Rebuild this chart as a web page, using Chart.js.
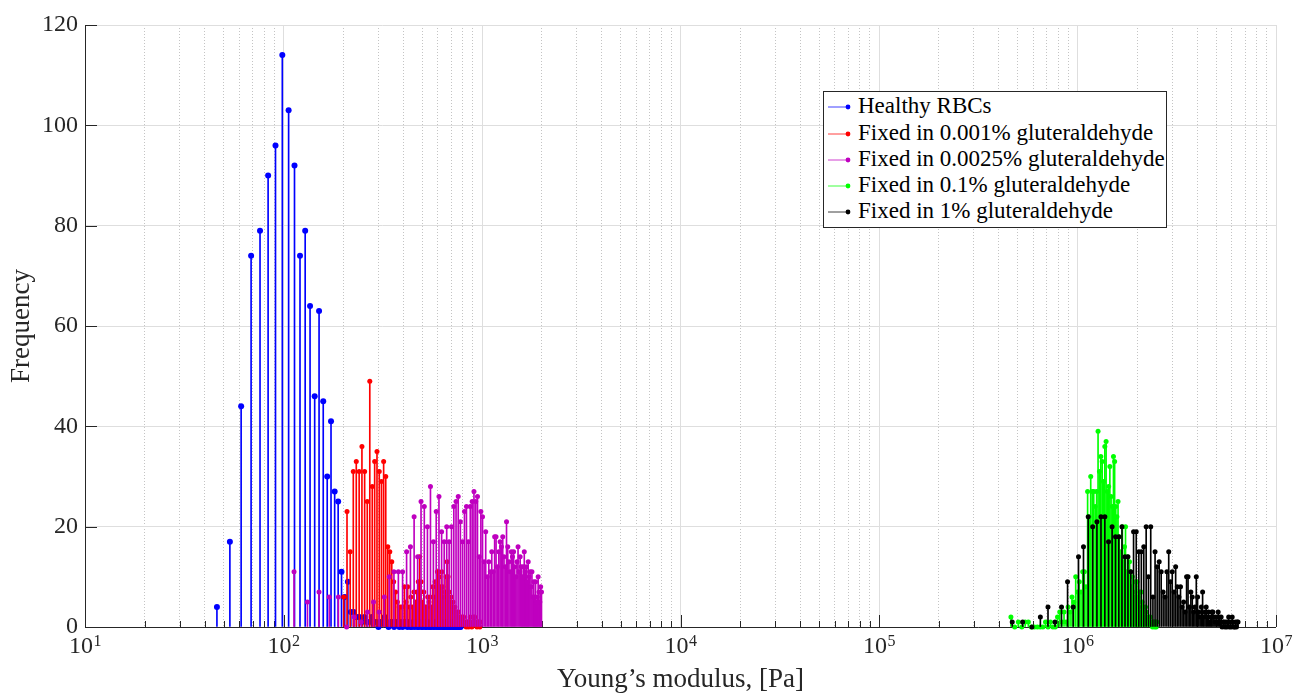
<!DOCTYPE html>
<html>
<head>
<meta charset="utf-8">
<script src="https://cdn.jsdelivr.net/npm/chart.js@4.4.1/dist/chart.umd.min.js"></script>
<style>
  html, body { margin: 0; padding: 0; background: #fff; }
  #wrap { position: relative; width: 1306px; height: 693px; }
  #legend {
    position: absolute; left: 823px; top: 91px; width: 344px; height: 137px;
    box-sizing: border-box; border: 1px solid #262626; background: #fff;
    font-family: "Liberation Serif", serif; font-size: 23px; color: #000;
  }
  .row { position: absolute; left: 0; height: 26px; line-height: 26px; white-space: nowrap; }
  .row svg { position: absolute; left: 3px; top: 8px; }
  .row span { position: absolute; left: 34px; top: -1px; }
</style>
</head>
<body>
<div id="wrap">
  <canvas id="histChart" width="1306" height="693"></canvas>
  <div id="legend"></div>
</div>
<script>
// histogram bins (Pa) and counts
const healthyBinStart = 46.2, healthyBinWidth = 7.49;
const healthyCounts = [
  4, 17, 44, 74, 79, 90, 96, 114, 103, 92,
  74, 79, 64, 46, 63, 45, 30, 41, 27, 25,
  11, 6, 9, 3, 3, 2, 2, 1, 2, 1,
  1, 2, 1, 1, 0, 1, 1, 2, 1, 0,
  1, 1, 0, 1, 1, 0, 1, 0, 1, 1,
  0, 1, 0, 0, 1, 0, 1, 0, 0, 1,
  0, 0, 1, 0, 0, 1, 0, 0, 0, 1,
  0, 0, 1, 0, 0, 0, 0, 1, 0, 0,
  0, 0, 1, 0, 0, 0, 0, 0, 1, 0,
  0, 0, 0, 0, 0, 0, 0, 0, 0, 1
];

const fixed001BinStart = 201, fixed001BinWidth = 7.9;
const fixed001Counts = [
  6, 23, 15, 31, 33, 31, 36, 31, 25, 49,
  28, 33, 35, 31, 29, 33, 30, 16, 15, 13,
  9, 7, 5, 4, 4, 4, 8, 5, 8, 4,
  6, 4, 7, 5, 7, 9, 14, 9, 5, 7,
  4, 4, 6, 5, 6, 4, 8, 6, 9, 8,
  11, 11, 10, 8, 11, 8, 6, 7, 10, 13,
  10, 7, 5, 6, 4, 5, 3, 4, 3, 2,
  3, 3, 2, 2, 1, 2, 1, 2, 1, 1,
  0, 1, 1, 0, 1, 2, 1, 0, 1, 2,
  1, 2, 1, 1, 0, 1, 1, 1, 0, 1
];

const fixed0025BinStart = 113, fixed0025BinWidth = 19.0;
const fixed0025Counts = [
  11, 5, 7, 6, 6, 0, 2, 1, 3, 5,
  3, 6, 10, 11, 11, 11, 15, 16, 22, 14,
  25, 24, 20, 28, 17, 23, 26, 19, 17, 20,
  17, 20, 24, 25, 26, 21, 17, 23, 24, 17,
  24, 25, 27, 25, 26, 14, 23, 22, 13, 19,
  10, 13, 11, 15, 11, 18, 18, 12, 15, 17,
  16, 18, 14, 12, 21, 16, 13, 11, 15, 14,
  15, 12, 10, 13, 16, 11, 14, 12, 10, 12,
  15, 11, 12, 9, 13, 10, 11, 8, 11, 6,
  9, 6, 9, 5, 6, 10, 7, 5, 8, 7
];

const fixed01BinStart = 462e3, fixed01BinWidth = 20.7e3;
const fixed01Counts = [
  2, 0, 1, 0, 1, 1, 0, 0, 0, 0,
  0, 1, 0, 1, 0, 0, 2, 3, 1, 3,
  1, 4, 3, 6, 5, 10, 7, 9, 7, 11,
  11, 8, 27, 22, 30, 27, 27, 24, 27, 39,
  31, 34, 33, 29, 36, 37, 27, 28, 32, 26,
  24, 34, 33, 24, 22, 25, 18, 15, 13, 20,
  13, 16, 20, 11, 14, 10, 13, 11, 8, 10,
  7, 6, 9, 5, 9, 6, 4, 7, 3, 7,
  5, 3, 4, 2, 4, 3, 2, 1, 2, 1,
  2, 1, 1, 0, 1, 1, 0, 1, 0, 1
];

const fixed1BinStart = 469e3, fixed1BinWidth = 60.3e3;
const fixed1Counts = [
  1, 1, 0, 2, 4, 1, 4, 9, 4, 14,
  16, 22, 20, 21, 22, 22, 17, 20, 18, 18,
  20, 14, 14, 11, 19, 19, 15, 15, 16, 20,
  10, 20, 6, 15, 12, 13, 11, 7, 6, 11,
  15, 9, 11, 7, 12, 8, 6, 8, 4, 5,
  3, 10, 10, 4, 7, 6, 3, 4, 10, 6,
  3, 2, 4, 7, 2, 3, 4, 2, 3, 1,
  2, 3, 3, 2, 1, 2, 1, 3, 2, 1,
  2, 0, 1, 1, 0, 1, 0, 1, 2, 0,
  1, 0, 2, 1, 0, 0, 1, 0, 1, 1
];

const seriesNames = [
  'Healthy RBCs',
  'Fixed in 0.001% gluteraldehyde',
  'Fixed in 0.0025% gluteraldehyde',
  'Fixed in 0.1% gluteraldehyde',
  'Fixed in 1% gluteraldehyde'
];
const seriesColors = ['#0000ff', '#ff0000', '#bf00bf', '#00ff00', '#000000'];
const markerSizes = [3, 2.5, 2.5, 2.5, 2.5];

const xTickExponents = [1, 2, 3, 4, 5, 6, 7];
const yTickValues = [0, 20, 40, 60, 80, 100, 120];

const series = [
  [healthyBinStart, healthyBinWidth, healthyCounts],
  [fixed001BinStart, fixed001BinWidth, fixed001Counts],
  [fixed0025BinStart, fixed0025BinWidth, fixed0025Counts],
  [fixed01BinStart, fixed01BinWidth, fixed01Counts],
  [fixed1BinStart, fixed1BinWidth, fixed1Counts]
];

function toPoints(start, width, counts) {
  return counts.map((c, i) => ({ x: start + i * width, y: c }));
}

// stems (1px bars) + markers; later series drawn on top like in matlab
const datasets = [];
series.forEach(([start, width, counts], i) => {
  const pts = toPoints(start, width, counts);
  datasets.push({
    type: 'bar', data: pts, backgroundColor: seriesColors[i],
    barThickness: 1, grouped: false, order: 20 - 2 * i
  });
  datasets.push({
    type: 'scatter', data: pts, backgroundColor: seriesColors[i],
    borderWidth: 0, pointRadius: markerSizes[i], showLine: false,
    clip: false, order: 19 - 2 * i
  });
});

// minor log ticks 2..9 for the grid
const xTickValues = [];
xTickExponents.forEach(e => {
  for (let k = 1; k <= 9; k++) {
    if (e === 7 && k > 1) break;
    xTickValues.push(k * Math.pow(10, e));
  }
});

function isDecade(v) {
  const l = Math.log10(v);
  return Math.abs(l - Math.round(l)) < 1e-9;
}

const axesDecor = {
  id: 'axesDecor',
  beforeDatasetsDraw(chart) {
    const { ctx, chartArea: a, scales: { x, y } } = chart;
    ctx.save();
    ctx.strokeStyle = '#262626';
    ctx.lineWidth = 1;
    ctx.beginPath();
    xTickValues.forEach(v => {
      const px = Math.round(x.getPixelForValue(v)) + 0.5;
      const len = isDecade(v) ? 12 : 6;
      ctx.moveTo(px, a.bottom); ctx.lineTo(px, a.bottom - len);
    });
    yTickValues.forEach(v => {
      const py = Math.round(y.getPixelForValue(v)) + 0.5;
      ctx.moveTo(a.left, py); ctx.lineTo(a.left + 12, py);
    });
    // left and bottom axis lines only (box off)
    const l = Math.round(a.left) + 0.5, b = Math.round(a.bottom) + 0.5;
    ctx.moveTo(l, Math.round(a.top)); ctx.lineTo(l, b);
    ctx.lineTo(Math.round(a.right), b);
    ctx.stroke();
    ctx.restore();
  },
  afterDraw(chart) {
    const { ctx, chartArea: a, scales: { x } } = chart;
    ctx.save();
    ctx.fillStyle = '#262626';
    ctx.textBaseline = 'alphabetic';
    xTickExponents.forEach(e => {
      const px = x.getPixelForValue(Math.pow(10, e));
      ctx.font = '24px "Liberation Serif"';
      const wb = ctx.measureText('10').width;
      ctx.font = '16px "Liberation Serif"';
      const we = ctx.measureText(String(e)).width;
      const left = px - (wb + we) / 2;
      ctx.font = '24px "Liberation Serif"';
      ctx.fillText('10', left, a.bottom + 26);
      ctx.font = '16px "Liberation Serif"';
      ctx.fillText(String(e), left + wb + 0.5, a.bottom + 19);
    });
    ctx.restore();
  }
};

Chart.defaults.font.family = '"Liberation Serif", serif';
Chart.defaults.color = '#262626';

new Chart(document.getElementById('histChart'), {
  type: 'bar',
  data: { datasets },
  options: {
    responsive: false,
    animation: false,
    events: [],
    layout: { padding: { top: 25, right: 30, left: 0, bottom: 0 } },
    plugins: { legend: { display: false }, tooltip: { enabled: false } },
    scales: {
      x: {
        type: 'logarithmic', min: 10, max: 1e7, offset: false,
        afterBuildTicks: s => { s.ticks = xTickValues.map(v => ({ value: v })); },
        afterFit: s => { s.height = 66; },
        ticks: { display: false },
        grid: {
          offset: false, drawTicks: false, lineWidth: 1,
          color: c => (c.tick && !isDecade(c.tick.value)) ? '#c4c4c4' : '#dedede'
        },
        border: { display: false, dash: c => (c.tick && !isDecade(c.tick.value)) ? [1, 2] : [] },
        title: {
          display: true, text: 'Young’s modulus, [Pa]', color: '#262626',
          font: { size: 27, lineHeight: 1 }, padding: 0
        }
      },
      y: {
        min: 0, max: 120,
        afterBuildTicks: s => { s.ticks = yTickValues.map(v => ({ value: v })); },
        afterFit: s => { s.width = 85; },
        ticks: { font: { size: 24 }, color: '#262626', padding: 7 },
        grid: { drawTicks: false, color: '#dedede', lineWidth: 1 },
        border: { display: false },
        title: {
          display: true, text: 'Frequency', color: '#262626',
          font: { size: 27, lineHeight: 1 }, padding: { top: 8, bottom: 0 }
        }
      }
    }
  },
  plugins: [axesDecor]
});

// legend box (matlab style: line with dot)
const legendEl = document.getElementById('legend');
seriesNames.forEach((name, i) => {
  const row = document.createElement('div');
  row.className = 'row';
  row.style.top = (16.3 + 26.25 * i - 13 - 1) + 'px';
  row.innerHTML =
    '<svg width="26" height="10"><line x1="1" y1="5" x2="22" y2="5" stroke="' + seriesColors[i] +
    '" stroke-width="1" stroke-opacity="0.75"/><circle cx="21" cy="5" r="2.4" fill="' + seriesColors[i] + '"/></svg>' +
    '<span>' + name + '</span>';
  legendEl.appendChild(row);
});
</script>
</body>
</html>
